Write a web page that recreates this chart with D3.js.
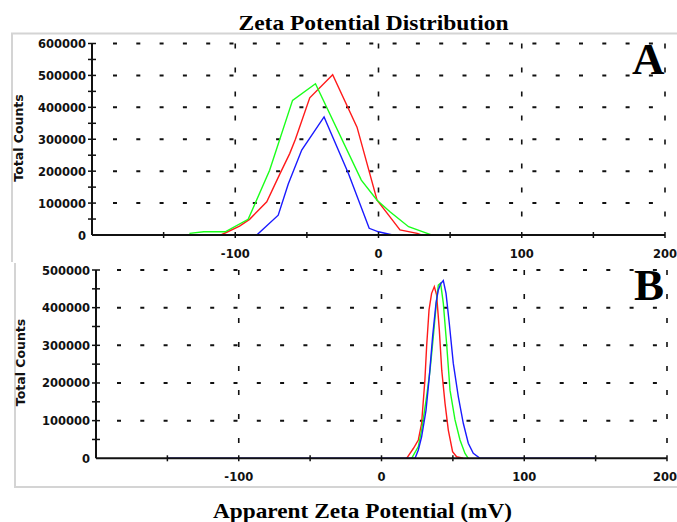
<!DOCTYPE html>
<html>
<head>
<meta charset="utf-8">
<script src="https://cdn.jsdelivr.net/npm/d3@7/dist/d3.min.js"></script>
<style>
  body { margin: 0; background: #fff; }
  svg { display: block; }
  .tick-label { font-family: "DejaVu Sans", sans-serif; font-weight: bold; font-size: 11.5px; fill: #111; }
  .y-title { font-family: "DejaVu Sans", sans-serif; font-weight: bold; font-size: 12.5px; fill: #111; }
  .serif { font-family: "Liberation Serif", "Times New Roman", serif; font-weight: bold; fill: #000; }
</style>
</head>
<body>
<svg id="chart" width="677" height="522"></svg>
<script>
// x axis, same for both panels (mV)
const xDomain = [-200, 200];
const xLabelTicks = [-100, 0, 100, 200];
const xMinorStep = 50;

// panel A: total counts vs apparent zeta potential
const aRed = [[-110, 0], [-97, 28000], [-90, 49000], [-78, 104000], [-69, 190000], [-62, 255000],
  [-58, 300000], [-48, 430000], [-32, 502000], [-15, 338000], [-1, 109000], [8, 57000],
  [15, 16000], [27, 5000], [30, 0]];
const aGreen = [[-132, 5000], [-122, 10000], [-107, 10000], [-91, 49000], [-76, 203000], [-60, 422000],
  [-44, 474000], [-12, 172000], [-1, 109000], [8, 73000], [21, 26000], [34, 5000], [37, 0], [148, 0]];
const aBlue = [[-150, 0], [-85, 0], [-70, 62000], [-63, 160000], [-53.6, 266000], [-38, 370000],
  [-21, 193000], [-6.5, 21000], [0, 10000], [6, 4000], [10, 0], [136, 0]];

// panel B
const bRed = [[17.6, 0], [22.3, 26000], [25.8, 48600], [28.1, 93000], [30.4, 208000], [31.6, 296000],
  [33.3, 394000], [35.1, 438000], [37, 456000], [38.6, 434000], [40.5, 341000], [42.2, 234000],
  [44.5, 146000], [46.8, 75000], [49.8, 17500], [52.6, 4000], [57.2, 0]];
const bGreen = [[21.1, 0], [25.8, 31000], [28.1, 75000], [31.6, 164000], [34, 234000], [36.3, 323000],
  [38.6, 420000], [39.8, 460000], [41.4, 465000], [43.3, 412000], [45.6, 305000], [48, 181000],
  [51.5, 102000], [55, 48600], [58.5, 13000], [60.8, 0]];
const bBlue = [[-150, 0], [23.5, 0], [25.8, 22000], [28.1, 57000], [31.2, 128000], [33.5, 217000],
  [35.8, 323000], [38.2, 412000], [39.8, 447000], [41.4, 463000], [43.3, 472000], [45.2, 438000],
  [47.5, 358000], [50.3, 252000], [53.8, 164000], [57.3, 93000], [60.8, 40000], [64.3, 13000],
  [69, 0], [150, 0]];

const W = 677;
const svg = d3.select("#chart");

// light frames around the two panels
const frame = svg.append("g").attr("stroke", "#d4d4d4").attr("stroke-width", 2).attr("fill", "none");
frame.append("path").attr("d", "M12,262V33.5H677");
frame.append("path").attr("d", "M15,263V487H677");

function drawPanel(p) {
  const x = d3.scaleLinear().domain(xDomain).range([p.left, p.right]);
  const y = d3.scaleLinear().domain([0, p.yMax]).range([p.bottom, p.top]);
  const g = svg.append("g");

  // dashed grid
  const grid = g.append("g").attr("stroke", "#111");
  d3.range(100000, p.yMax + 1, 100000).forEach(v => {
    grid.append("line")
      .attr("x1", p.left + 21).attr("x2", p.right)
      .attr("y1", y(v)).attr("y2", y(v))
      .attr("stroke-width", 2)
      .attr("stroke-dasharray", "4,19.3");
  });
  xLabelTicks.forEach(v => {
    grid.append("line")
      .attr("x1", x(v)).attr("x2", x(v))
      .attr("y1", p.top).attr("y2", p.bottom - 6)
      .attr("stroke-width", 1.6)
      .attr("stroke-dasharray", "5,19");
  });

  // data lines
  const line = d3.line().x(d => x(d[0])).y(d => y(d[1]));
  [[p.red, "#ff1a1a"], [p.green, "#1aff1a"], [p.blue, "#1a1aff"]].forEach(([data, c]) => {
    g.append("path").datum(data)
      .attr("d", line)
      .attr("fill", "none")
      .attr("stroke", c)
      .attr("stroke-width", 1.4);
  });

  // axes
  const ax = g.append("g").attr("stroke", "#111").attr("stroke-width", 2);
  ax.append("line").attr("x1", p.left).attr("x2", p.right).attr("y1", p.bottom).attr("y2", p.bottom);
  ax.append("line").attr("x1", p.left).attr("x2", p.left).attr("y1", p.top).attr("y2", p.bottom);
  d3.range(xDomain[0] + xMinorStep, xDomain[1] + 1, xMinorStep).forEach(v => {
    ax.append("line").attr("x1", x(v)).attr("x2", x(v))
      .attr("y1", p.bottom - 3).attr("y2", p.bottom + 3).attr("stroke-width", 1.5);
  });
  d3.range(50000, p.yMax + 1, 50000).forEach(v => {
    ax.append("line").attr("x1", p.left - 4).attr("x2", p.left + 4)
      .attr("y1", y(v)).attr("y2", y(v)).attr("stroke-width", 1.5);
  });

  // tick labels
  d3.range(0, p.yMax + 1, 100000).forEach(v => {
    g.append("text").attr("class", "tick-label")
      .attr("x", p.left - 6).attr("y", y(v) + 4.5)
      .attr("text-anchor", "end")
      .text(v);
  });
  xLabelTicks.forEach(v => {
    const t = g.append("text").attr("class", "tick-label")
      .attr("x", x(v)).attr("y", p.bottom + 23)
      .attr("text-anchor", "middle")
      .text(v);
    // keep the last label inside the window
    const w = t.node().getComputedTextLength();
    if (x(v) + w / 2 > W) t.attr("x", W - w / 2);
  });

  g.append("text").attr("class", "y-title")
    .attr("transform", `translate(${p.yTitleX},${p.yTitleY}) rotate(-90)`)
    .attr("text-anchor", "middle")
    .text("Total Counts");

  g.append("text").attr("class", "serif")
    .attr("x", p.right - 33).attr("y", p.top + 30)
    .style("font-size", "45px")
    .text(p.name);
}

drawPanel({ name: "A", left: 92, right: 665, top: 43.5, bottom: 235, yMax: 600000,
  red: aRed, green: aGreen, blue: aBlue, yTitleX: 22.5, yTitleY: 138 });
drawPanel({ name: "B", left: 96, right: 667, top: 270, bottom: 458.3, yMax: 500000,
  red: bRed, green: bGreen, blue: bBlue, yTitleX: 25, yTitleY: 362.5 });

svg.append("text").attr("class", "serif")
  .attr("x", 373.5).attr("y", 30)
  .attr("text-anchor", "middle")
  .attr("textLength", 270).attr("lengthAdjust", "spacingAndGlyphs")
  .style("font-size", "21px")
  .text("Zeta Potential Distribution");

svg.append("text").attr("class", "serif")
  .attr("x", 362.5).attr("y", 518)
  .attr("text-anchor", "middle")
  .attr("textLength", 299).attr("lengthAdjust", "spacingAndGlyphs")
  .style("font-size", "22px")
  .text("Apparent Zeta Potential (mV)");
</script>
</body>
</html>
